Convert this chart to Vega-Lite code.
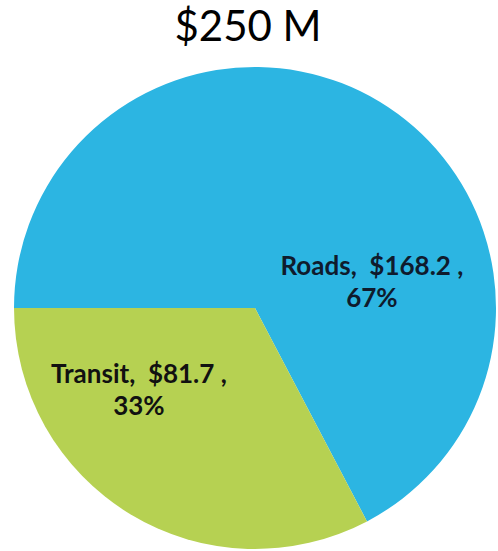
{
  "$schema": "https://vega.github.io/schema/vega-lite/v6.json",
  "width": 486,
  "height": 486,
  "autosize": "none",
  "padding": {"left": 12, "top": 65, "right": 0, "bottom": 0},
  "background": "white",
  "title": {"text": "$250 M", "font": "Lato", "fontSize": 42, "fontWeight": "normal", "color": "#000000", "anchor": "middle", "dx": -7, "offset": 15},
  "data": {"values": [
    {"category": "Roads", "value": 168.2, "label": "Roads,\u00a0\u00a0$168.2\u00a0,\n67%"},
    {"category": "Transit", "value": 81.7, "label": "Transit,\u00a0\u00a0$81.7\u00a0,\n33%"}
  ]},
  "view": {"stroke": null},
  "layer": [
    {
      "mark": {"type": "arc", "outerRadius": 241},
      "encoding": {
        "theta": {"field": "value", "type": "quantitative", "stack": true, "scale": {"range": [-1.5708, 4.7124]}},
        "color": {"field": "category", "type": "nominal", "scale": {"domain": ["Roads", "Transit"], "range": ["#2CB5E2", "#B6D152"]}, "legend": null}
      }
    },
    {
      "transform": [{"filter": "datum.category === 'Roads'"}],
      "mark": {"type": "text", "theta": 1.231, "radius": 124, "font": "Lato", "fontSize": 26, "fontWeight": "bold", "lineBreak": "\n", "lineHeight": 32, "align": "center", "baseline": "middle", "color": "#0f1b2d"},
      "encoding": {"text": {"field": "label"}}
    },
    {
      "transform": [{"filter": "datum.category === 'Transit'"}],
      "mark": {"type": "text", "theta": 4.189, "radius": 134, "font": "Lato", "fontSize": 26, "fontWeight": "bold", "lineBreak": "\n", "lineHeight": 32, "align": "center", "baseline": "middle", "color": "#111111"},
      "encoding": {"text": {"field": "label"}}
    }
  ]
}
